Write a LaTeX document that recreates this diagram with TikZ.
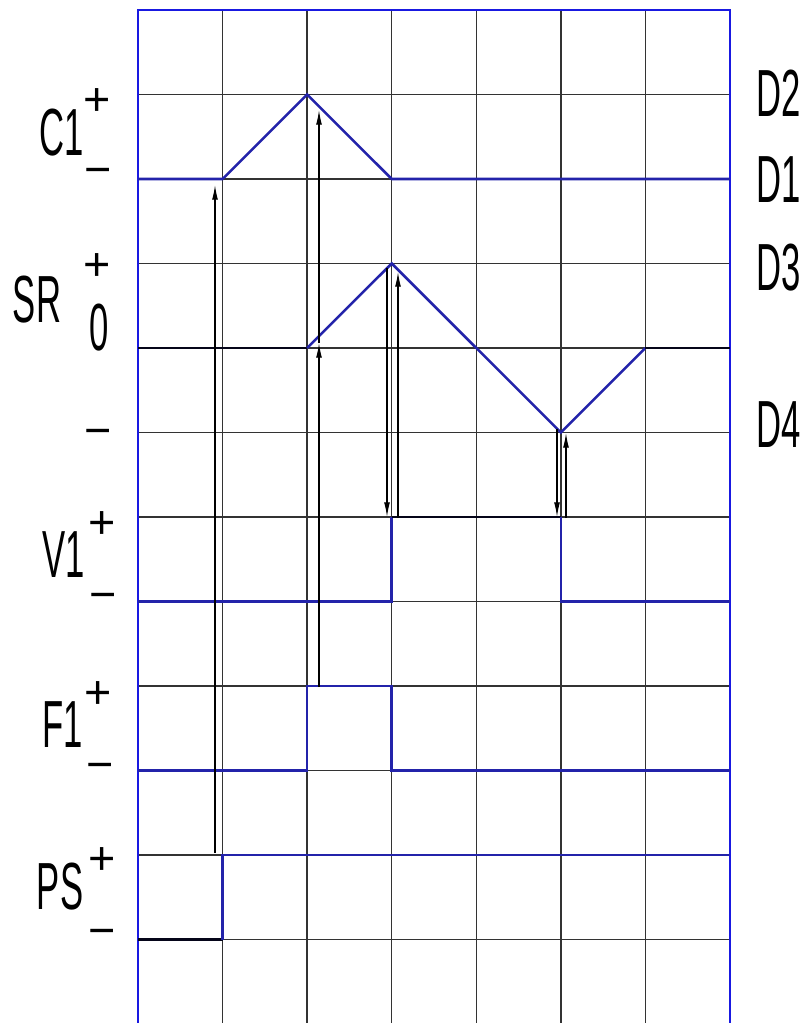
\documentclass[tikz,border=0pt]{standalone}
\usepackage{fontspec}
\setmainfont{Liberation Sans}[FakeStretch=0.52]
\newfontfamily\pmfont{Liberation Sans}
\usetikzlibrary{arrows.meta}
\definecolor{sig}{RGB}{35,35,170}
\definecolor{frm}{RGB}{25,25,225}
\begin{document}
\begin{tikzpicture}[x=0.75pt,y=-0.75pt,
  gridline/.style={draw=black!80,line width=1.05pt},
  frameline/.style={draw=frm,line width=1.9pt},
  sigline/.style={draw=sig,line width=1.9pt,line join=miter},
  darkline/.style={draw=black!85!sig,line width=1.9pt},
  arr/.style={draw=black,line width=0.9pt,-{Latex[length=11pt,width=4.4pt]}},
  lab/.style={inner sep=0pt,font=\fontsize{50}{50}\selectfont},
  pm/.style={inner sep=0pt,font=\pmfont\fontsize{35}{35}\selectfont}]
\useasboundingbox (0,0) rectangle (811,1023);
\fill[white] (0,0) rectangle (811,1023);
% named grid points
\foreach \i in {0,...,7}
  \foreach \j in {0,...,12}
    \coordinate (p\i-\j) at ({138+84.571*\i},{10+84.5*\j});
% grid
\foreach \i in {1,...,6}
  \draw[gridline] (p\i-0) -- ([yshift=-5]p\i-12);
\foreach \j in {1,...,11}
  \draw[gridline] (p0-\j) -- (p7-\j);
% frame
\draw[frameline] ([yshift=-2]p0-12) -- (p0-0) -- (p7-0) -- ([yshift=-2]p7-12);
% C1
\draw[sigline] (p0-2) -- (p1-2) -- (p2-1) -- (p3-2) -- (p7-2);
% SR
\draw[darkline] (p0-4) -- (p2-4);
\draw[sigline] (p2-4) -- (p3-3) -- (p4-4) -- (p5-5) -- (p6-4);
\draw[darkline] (p6-4) -- (p7-4);
% V1
\draw[sigline] (p0-7) -- (p3-7) -- (p3-6);
\draw[darkline] (p3-6) -- (p5-6);
\draw[sigline] (p5-6) -- (p5-7) -- (p7-7);
% F1
\draw[sigline] (p0-9) -- (p2-9) -- (p2-8) -- (p3-8) -- (p3-9) -- (p7-9);
% PS
\draw[darkline] (p0-11) -- (p1-11);
\draw[sigline] (p1-11) -- (p1-10) -- (p7-10);
% arrow anchor coordinates
\coordinate (a1s) at (215,853);
\coordinate (a1e) at (215,185);
\coordinate (a2s) at (319,687);
\coordinate (a2m) at (319,343);
\coordinate (a2e) at (319,110);
\coordinate (a3s) at (387,268);
\coordinate (a3e) at (387,517);
\coordinate (a4s) at (398,518);
\coordinate (a4e) at (398,272);
\coordinate (a5s) at (557,429);
\coordinate (a5e) at (557,517);
\coordinate (a6s) at (566,518);
\coordinate (a6e) at (566,433);
\draw[arr] (a1s) -- (a1e);
\draw[arr] (a2s) -- (a2m);
\draw[arr] (a2m) -- (a2e);
\draw[arr] (a3s) -- (a3e);
\draw[arr] (a4s) -- (a4e);
\draw[arr] (a5s) -- (a5e);
\draw[arr] (a6s) -- (a6e);
% left labels
\node[lab] (c1) at (62,133) {C1};
\node[pm] (c1p) at (97,102) {+};
\node[pm] (c1m) at (98,177) {\symbol{"2212}};
\node[lab] (sr) at (37,300) {SR};
\node[pm] (srp) at (97,267) {+};
\node[lab] (sr0) at (99,328) {0};
\node[pm] (srm) at (98,438) {\symbol{"2212}};
\node[lab] (v1) at (64,555) {V1};
\node[pm] (v1p) at (102,525) {+};
\node[pm] (v1m) at (103,602) {\symbol{"2212}};
\node[lab] (f1) at (63,725) {F1};
\node[pm] (f1p) at (98,695) {+};
\node[pm] (f1m) at (100,772) {\symbol{"2212}};
\node[lab] (ps) at (60,887) {PS};
\node[pm] (psp) at (102,861) {+};
\node[pm] (psm) at (102,938) {\symbol{"2212}};
% right labels
\node[lab] (d2) at (779,93) {D2};
\node[lab] (d1) at (779,180) {D1};
\node[lab] (d3) at (779,268) {D3};
\node[lab] (d4) at (779,425) {D4};
\end{tikzpicture}
\end{document}
